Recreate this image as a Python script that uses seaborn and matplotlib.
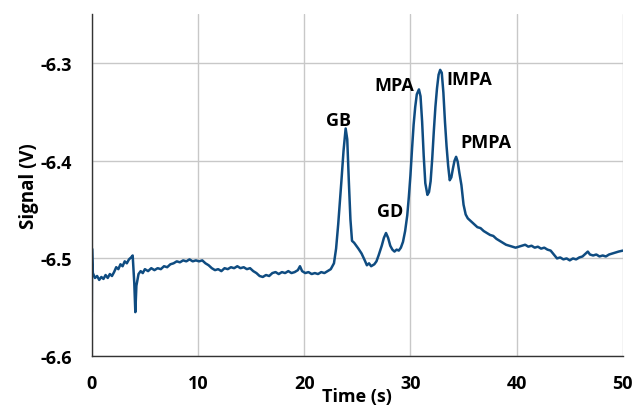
import matplotlib
matplotlib.use('Agg')
import matplotlib.pyplot as plt
import seaborn as sns
import pandas as pd

# time (s) and signal (V)
time_s = [
    0.0, 0.02, 0.1, 0.3, 0.5, 0.7, 0.9, 1.1, 1.3, 1.5, 1.7, 1.9, 2.1, 2.3, 2.5, 2.7, 2.9,
    3.1, 3.3, 3.5, 3.7, 3.85, 4.0, 4.1, 4.2, 4.4, 4.6, 4.8, 5.0, 5.3, 5.6, 5.9, 6.2, 6.5,
    6.8, 7.1, 7.4, 7.7, 8.0, 8.3, 8.6, 8.9, 9.2, 9.5, 9.8, 10.1, 10.4, 10.7, 11.0, 11.3,
    11.6, 11.9, 12.2, 12.5, 12.8, 13.1, 13.4, 13.7, 14.0, 14.3, 14.6, 14.9, 15.2, 15.5,
    15.8, 16.1, 16.4, 16.7, 17.0, 17.3, 17.6, 17.9, 18.2, 18.5, 18.8, 19.1, 19.4, 19.6,
    19.8, 20.1, 20.4, 20.7, 21.0, 21.3, 21.6, 21.9, 22.2, 22.5, 22.8, 23.0, 23.2, 23.5,
    23.7, 23.9, 24.05, 24.2, 24.35, 24.5, 24.7, 24.9, 25.1, 25.4, 25.7, 25.9, 26.1, 26.3,
    26.6, 26.8, 27.0, 27.3, 27.5, 27.7, 27.9, 28.1, 28.3, 28.5, 28.7, 28.9, 29.1, 29.3,
    29.5, 29.7, 29.85, 30.0, 30.15, 30.3, 30.45, 30.6, 30.8, 30.95, 31.1, 31.25, 31.4,
    31.6, 31.75, 31.9, 32.05, 32.2, 32.35, 32.5, 32.65, 32.8, 32.95, 33.1, 33.25, 33.4,
    33.55, 33.7, 33.85, 34.0, 34.15, 34.3, 34.45, 34.6, 34.8, 35.0, 35.2, 35.4, 35.7,
    36.0, 36.3, 36.6, 36.9, 37.2, 37.5, 37.8, 38.1, 38.4, 38.7, 39.0, 39.3, 39.6, 39.9,
    40.2, 40.5, 40.8, 41.1, 41.4, 41.7, 42.0, 42.3, 42.6, 42.9, 43.2, 43.5, 43.8, 44.1,
    44.4, 44.7, 45.0, 45.3, 45.6, 45.9, 46.2, 46.5, 46.7, 46.9, 47.2, 47.5, 47.8, 48.1,
    48.4, 48.7, 49.0, 49.3, 49.6, 50.0,
]
signal_v = [
    -6.555, -6.490, -6.515, -6.520, -6.518, -6.522, -6.519, -6.521, -6.517, -6.520, -6.516, -6.518, -6.514, -6.509, -6.511, -6.506, -6.508,
    -6.503, -6.505, -6.501, -6.499, -6.497, -6.525, -6.555, -6.528, -6.516, -6.513, -6.515, -6.511, -6.513, -6.510, -6.512, -6.510, -6.511,
    -6.508, -6.509, -6.506, -6.505, -6.503, -6.504, -6.502, -6.503, -6.501, -6.503, -6.502, -6.503, -6.502, -6.505, -6.507, -6.510,
    -6.512, -6.511, -6.513, -6.510, -6.511, -6.509, -6.510, -6.508, -6.510, -6.509, -6.511, -6.510, -6.513, -6.515,
    -6.518, -6.519, -6.517, -6.518, -6.515, -6.514, -6.516, -6.514, -6.515, -6.513, -6.515, -6.514, -6.512, -6.508,
    -6.513, -6.515, -6.514, -6.516, -6.515, -6.516, -6.514, -6.515, -6.513, -6.511, -6.505, -6.490, -6.465, -6.421,
    -6.390, -6.367, -6.378, -6.421, -6.460, -6.482, -6.484, -6.487, -6.490, -6.495, -6.502, -6.507, -6.505, -6.508,
    -6.506, -6.503, -6.497, -6.487, -6.479, -6.474, -6.479, -6.487, -6.491, -6.493, -6.491, -6.492, -6.489, -6.483,
    -6.472, -6.456, -6.437, -6.415, -6.388, -6.363, -6.345, -6.332, -6.327, -6.334, -6.360, -6.395, -6.423,
    -6.435, -6.432, -6.421, -6.398, -6.370, -6.345, -6.326, -6.312, -6.307, -6.310, -6.330, -6.360, -6.385,
    -6.405, -6.420, -6.417, -6.408, -6.400, -6.396, -6.401, -6.412, -6.425, -6.445, -6.455, -6.459, -6.462,
    -6.465, -6.468, -6.469, -6.472, -6.474, -6.476, -6.477, -6.480, -6.482, -6.484, -6.486, -6.487, -6.488, -6.489,
    -6.488, -6.487, -6.486, -6.488, -6.487, -6.489, -6.488, -6.490, -6.489, -6.491, -6.492, -6.496, -6.500, -6.499,
    -6.501, -6.500, -6.502, -6.500, -6.501, -6.499, -6.498, -6.495, -6.493, -6.496, -6.497, -6.496, -6.498, -6.497,
    -6.498, -6.496, -6.495, -6.494, -6.493, -6.492,
]

# peak labels
peak_names = ['GB', 'GD', 'MPA', 'IMPA', 'PMPA']
peak_text_t = [23.2, 28.1, 28.5, 35.5, 37.1]
peak_text_v = [-6.358, -6.451, -6.322, -6.316, -6.381]

df = pd.DataFrame({'Time (s)': time_s, 'Signal (V)': signal_v})

sns.set_style('white')
plt.rcParams['font.family'] = ['Open Sans', 'DejaVu Sans']
plt.rcParams['font.weight'] = 'bold'
plt.rcParams['text.color'] = 'black'
plt.rcParams['axes.labelcolor'] = 'black'

fig = plt.figure(figsize=(6.33, 4.10), dpi=100)
ax = fig.add_axes([0.145, 0.129, 0.839, 0.834])

sns.lineplot(data=df, x='Time (s)', y='Signal (V)', ax=ax, color='#0f4c81',
             linewidth=1.8, estimator=None, sort=False)

for name, t, v in zip(peak_names, peak_text_t, peak_text_v):
    ax.text(t, v, name, ha='center', va='center', fontsize=13, fontweight='bold',
            color='black')

ax.set_xlim(0, 50)
ax.set_ylim(-6.6, -6.25)
ax.set_xticks([0, 10, 20, 30, 40, 50])
ax.set_yticks([-6.6, -6.5, -6.4, -6.3])
ax.set_yticklabels(['-6.6', '-6.5', '-6.4', '-6.3'])
ax.grid(True, color='#c8c8c8', linewidth=1)
ax.set_axisbelow(True)
for side in ['top', 'right']:
    ax.spines[side].set_visible(False)
for side in ['left', 'bottom']:
    ax.spines[side].set_color('#333333')
    ax.spines[side].set_linewidth(1)
ax.tick_params(direction='in', length=5, width=1, colors='#333333',
               labelcolor='black', labelsize=13)
ax.tick_params(axis='x', pad=13)
ax.tick_params(axis='y', pad=14)
ax.set_xlabel('Time (s)', fontsize=13, fontweight='bold', labelpad=-4)
ax.set_ylabel('Signal (V)', fontsize=13.5, fontweight='bold', labelpad=1)

fig.savefig('out.png', dpi=100)
